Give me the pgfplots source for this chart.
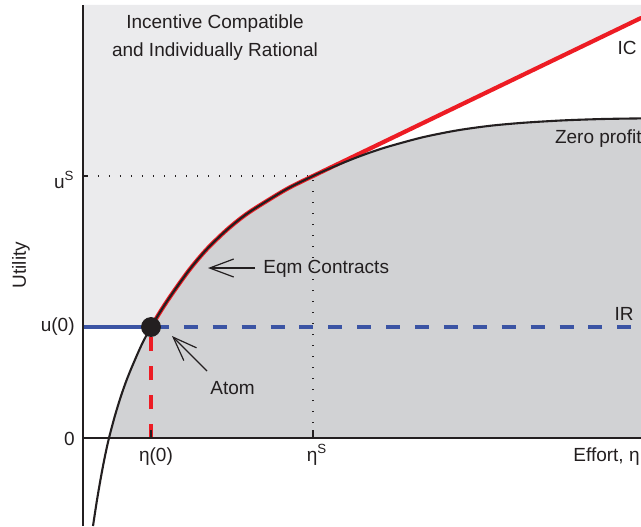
\documentclass[border=0pt]{standalone}
\usepackage{fontspec}
\setmainfont{Liberation Sans}
\usepackage{pgfplots}
\pgfplotsset{compat=1.18}
\usetikzlibrary{arrows.meta}
\definecolor{lgray}{RGB}{235,235,237}
\definecolor{dgray}{RGB}{209,210,212}
\definecolor{ered}{RGB}{237,28,36}
\definecolor{eblue}{RGB}{59,84,164}
\definecolor{ink}{RGB}{35,31,32}
\begin{document}
\begin{tikzpicture}[font=\fontsize{9.5}{11}\selectfont, text=ink, lab/.style={inner sep=0pt}]
\begin{axis}[x=0.5pt, y=0.5pt, xmin=0, xmax=558, ymin=-88, ymax=433,
  axis lines=none, clip=false, scale only axis]
% light gray: IC and IR region
\addplot[fill=lgray, draw=none] coordinates {(0,111) (68,111) (79,129) (90,145.5) (107,169) (124,189) (144,208.3) (164,224.3) (190,240.8) (207,250.7) (230,262) (558,420) (558,433) (0,433)} -- cycle;
% dark gray: below zero profit, above zero
\addplot[fill=dgray, draw=none] coordinates {(26,0) (32,22.5) (38,42) (44,59) (51,76) (59,94) (68,111) (79,129) (90,145.5) (107,169) (124,189) (144,208.3) (164,224.3) (190,240.8) (207,250.7) (230,262) (240,266.6) (257,273.9) (274,280.7) (290,286.5) (307,291.9) (340,300.8) (374,307.6) (407,312.2) (440,315.2) (480,317.6) (520,319) (558,319.6) (558,0)} -- cycle;
% dotted guides
\addplot[ink, line width=0.6pt, dash pattern=on 0.6pt off 4.9pt] coordinates {(4,262) (230,262)};
\addplot[ink, line width=0.6pt, dash pattern=on 0.6pt off 4.9pt] coordinates {(230,4) (230,262)};
% IR line
\addplot[eblue, line width=2pt] coordinates {(0,111) (68,111)};
\addplot[eblue, line width=2pt, dash pattern=on 7pt off 7.45pt] coordinates {(71.9,111) (558,111)};
% red dashed vertical
\addplot[ered, line width=2pt, dash pattern=on 7pt off 7.5pt] coordinates {(68,0) (68,111)};
% IC (red) over eqm contracts and straight line
\addplot[ered, line width=2.1pt, smooth, line cap=round] coordinates {(68,111) (79,129) (90,145.5) (107,169) (124,189) (144,208.3) (164,224.3) (190,240.8) (207,250.7) (230,262)};
\addplot[ered, line width=2.1pt, line cap=round] coordinates {(230,262) (558,420)};
% zero profit curve
\addplot[ink, line width=1.05pt, smooth] coordinates {(10,-88) (14,-62) (18,-38.8) (22,-18) (26,0) (32,22.5) (38,42) (44,59) (51,76) (59,94) (68,111) (79,129) (90,145.5) (107,169) (124,189) (144,208.3) (164,224.3) (190,240.8) (207,250.7) (230,262) (240,266.6) (257,273.9) (274,280.7) (290,286.5) (307,291.9) (340,300.8) (374,307.6) (407,312.2) (440,315.2) (480,317.6) (520,319) (558,319.6)};
% axes
\addplot[ink, line width=1pt] coordinates {(0,0) (558,0)};
\addplot[ink, line width=0.75pt] coordinates {(0,-88) (0,433)};
% ticks
\addplot[ink, line width=0.6pt] coordinates {(68,0) (68,8)};
\addplot[ink, line width=0.6pt] coordinates {(230,0) (230,8)};
\addplot[ink, line width=0.6pt] coordinates {(0,0) (8,0)};
\addplot[ink, line width=0.6pt] coordinates {(0,262) (4,262)};
% atom
\addplot[only marks, mark=*, mark size=4.75pt, color=ink] coordinates {(68,111)};
% labels
\node[lab, anchor=east] at (axis cs:-8,111) {u(0)};
\node[lab, anchor=east] at (axis cs:-8,-1) {0};
\node[lab, anchor=base east] at (axis cs:-8,250) {u\textsuperscript{S}};
\node[lab, anchor=base] at (axis cs:73,-23) {η(0)};
\node[lab, anchor=base] at (axis cs:234,-23) {η\textsuperscript{S}};
\node[lab, anchor=base east] at (axis cs:557,-23) {Effort, η};
\node[lab, rotate=90] at (axis cs:-62,173) {Utility};
\node[lab, anchor=base] at (axis cs:132,409) {Incentive Compatible};
\node[lab, anchor=base] at (axis cs:132,381) {and Individually Rational};
\node[lab, anchor=base] at (axis cs:544,383) {IC};
\node[lab, anchor=base east] at (axis cs:559,295) {Zero profit};
\node[lab, anchor=base] at (axis cs:541,118) {IR};
\node[lab, anchor=base west] at (axis cs:180,165) {Eqm Contracts};
\node[lab, anchor=base west] at (axis cs:127,44) {Atom};
\draw[ink, line width=0.6pt, -{Straight Barb[length=12pt,width=9pt]}] (axis cs:172,170) -- (axis cs:125,170);
\draw[ink, line width=0.6pt, -{Straight Barb[length=12pt,width=9pt]}] (axis cs:124,67) -- (axis cs:89,102);
\coordinate (bl) at (axis cs:-83,-88);
\coordinate (tr) at (axis cs:558,438);
\end{axis}
\pgfresetboundingbox
\path (bl) rectangle (tr);
\end{tikzpicture}
\end{document}
